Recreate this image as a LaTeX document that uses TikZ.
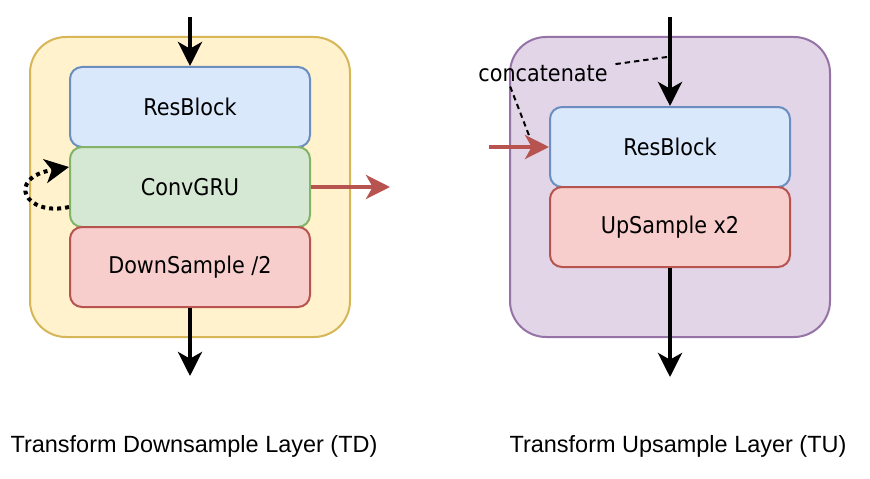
\documentclass[tikz,border=0pt]{standalone}
\usepackage{fontspec}
\setmainfont{Liberation Sans}
\newfontfamily\blockfont{DejaVu Sans Condensed}
\usetikzlibrary{arrows.meta}
\definecolor{tdfill}{HTML}{FFF2CC}
\definecolor{tdline}{HTML}{D6B656}
\definecolor{tufill}{HTML}{E1D5E7}
\definecolor{tuline}{HTML}{9673A6}
\definecolor{resfill}{HTML}{DAE8FC}
\definecolor{resline}{HTML}{6C8EBF}
\definecolor{grufill}{HTML}{D5E8D4}
\definecolor{gruline}{HTML}{82B366}
\definecolor{smpfill}{HTML}{F8CECC}
\definecolor{smpline}{HTML}{B85450}

\begin{document}
\begin{tikzpicture}[x=0.75pt,y=-0.75pt,
  layer/.style={draw,line width=1.5pt,rounded corners=27pt,minimum width=240pt,minimum height=225pt},
  block/.style={draw,line width=1.5pt,rounded corners=9pt,minimum width=180pt,minimum height=60pt,font=\blockfont\fontsize{17.3}{20}\selectfont},
  flow/.style={line width=3pt,-{Stealth[length=18pt,width=18pt,inset=5pt]}},
  skipflow/.style={flow,smpline},
  loopflow/.style={flow,dash pattern=on 3pt off 3pt},
  catline/.style={line width=1.5pt,dash pattern=on 4pt off 3pt}]
\tikzstyle{every node}+=[inner sep=0pt]
\useasboundingbox (0,0) rectangle (870,478);
\node[layer,fill=tdfill,draw=tdline] (td) at (190,187) {};
\node[layer,fill=tufill,draw=tuline] (tu) at (670,187) {};
\node[block,fill=resfill,draw=resline] (tdres) at (190,107) {ResBlock};
\node[block,fill=grufill,draw=gruline] (tdgru) at (190,187) {ConvGRU};
\node[block,fill=smpfill,draw=smpline] (tddown) at (190,267) {DownSample /2};
\node[block,fill=resfill,draw=resline] (tures) at (670,147) {ResBlock};
\node[block,fill=smpfill,draw=smpline] (tuup) at (670,227) {UpSample x2};
\coordinate (tdin) at (190,17);
\coordinate (tdout) at (190,376);
\coordinate (gruout) at (390,187);
\coordinate (tuin) at (670,17);
\coordinate (tuout) at (670,377);
\coordinate (skip) at (489,147);
\coordinate (tap) at (667,57);
\coordinate (mark) at (530,138);
\draw[flow] (tdin) -- (tdres);
\draw[flow] (tddown) -- (tdout);
\draw[skipflow] (tdgru) -- (gruout);
\draw[loopflow] ([yshift=-15pt]tdgru.west) .. controls (25,217) and (5,178) .. ([yshift=15pt]tdgru.west);
\draw[flow] (tuin) -- (tures);
\draw[flow] (tuup) -- (tuout);
\draw[skipflow] (skip) -- (tures);
\node[inner sep=3pt,anchor=base,font=\blockfont\fontsize{17.3}{20}\selectfont] (cat) at (543,82) {concatenate};
\draw[catline] (tap) -- (cat);
\draw[catline] ([xshift=27pt]cat.south west) -- (mark);
\node[anchor=base,font=\fontsize{17.6}{21}\selectfont] (tdname) at (194,452) {Transform Downsample Layer (TD)};
\node[anchor=base,font=\fontsize{17.6}{21}\selectfont] (tuname) at (678,452) {Transform Upsample Layer (TU)};
\end{tikzpicture}
\end{document}
